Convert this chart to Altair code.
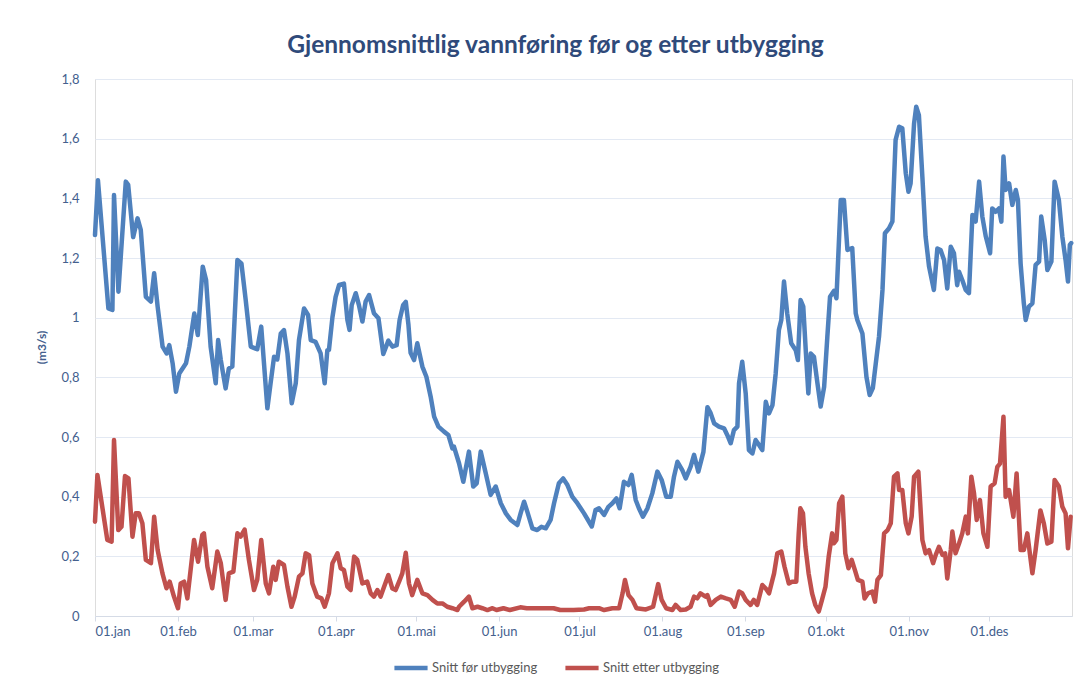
import altair as alt
import pandas as pd

# ---- data (day of year, m3/s) ----
blue_day = [0, 1.1, 5, 6.5, 7.1, 8.75, 11.5, 12.4, 14.25, 15.9, 17.1, 19, 20.9, 22.1, 23.4, 25.25, 26.75, 27.75, 29, 30.25,
            31.5, 34, 35.25, 37.1, 38.4, 40.25, 41.5, 43.2, 45.1, 46, 47, 48.8, 50, 51.3, 53.2, 54.7, 56.3, 58.2, 60.6, 62.1,
            64.4, 65.6, 66.9, 68.1, 69.4, 70.6, 71.9, 73.5, 75, 76.2, 78.1, 79.6, 80.6, 82.4, 84.3, 85.8, 86.8, 87.4, 88.7, 89.9,
            91.2, 93, 94.3, 95.1, 95.9, 97.4, 98.6, 99.9, 101.1, 102.4, 104.2, 105.9, 107.7, 109.6, 111.1, 112.7, 113.8, 115.1, 116.1, 117.1,
            117.9, 119.2, 120.4, 122.3, 123.8, 125.4, 126.7, 128.3, 130.4, 132, 133.5, 134.1, 136, 137.6, 139.7, 141.3, 142.6, 144.1, 146, 147.8,
            149.7, 151.6, 153.5, 155.3, 157.8, 159, 160.3, 161.5, 163.4, 165.2, 166.8, 168.4, 170.2, 171.5, 173.3, 174.9, 176.5, 178.3, 180.2, 182.7,
            185.6, 187, 188.3, 190.2, 191.8, 193.3, 194.8, 196, 197.6, 199.3, 200.5, 202, 203.2, 204.7, 206.4, 208.2, 210.1, 211.7, 213.4, 215.1,
            216.3, 217.6, 219.4, 220.7, 222.5, 223.8, 225.4, 227.3, 228.8, 230, 231.3, 233.1, 235, 236.2, 237.5, 238.7, 240, 240.6, 241.8, 243.1,
            244.3, 245.6, 246.8, 248.1, 249.3, 250.6, 251.8, 253.1, 254.3, 255.5, 256.4, 257.4, 258.6, 260.1, 261.8, 262.6, 263.6, 264.6, 265.6, 266.5,
            267.4, 268.6, 269.9, 271.1, 272.4, 273.6, 274.6, 276.1, 277, 278.6, 279.8, 281.1, 282.9, 284.2, 284.8, 286.7, 288.2, 289.4, 290.6, 291.7,
            292.9, 294.2, 295.1, 296.6, 297.9, 299.1, 300.4, 301.6, 302.9, 303.9, 304.7, 306, 306.8, 307.8, 309.1, 310.3, 311.6, 313.4, 314.7, 315.9,
            317.2, 318.4, 319.7, 320.9, 322.1, 322.8, 324, 325.3, 326.5, 327.8, 329, 330.3, 331.5, 332.8, 334.4, 335.2, 336.5, 337.7, 338.6, 339.4,
            340.2, 341.5, 342.7, 344, 344.8, 345.8, 347, 347.7, 348.9, 350.2, 351.4, 352.7, 353.5, 354.8, 355.8, 357.3, 358.5, 360.1, 361.4, 362.6,
            363.5, 364.2, 364.7]
blue_val = [1.277, 1.461, 1.031, 1.026, 1.411, 1.087, 1.456, 1.445, 1.270, 1.333, 1.294, 1.070, 1.054, 1.149, 1.037, 0.903, 0.880, 0.908, 0.847, 0.752,
            0.813, 0.847, 0.903, 1.014, 0.942, 1.171, 1.126, 0.903, 0.780, 0.925, 0.858, 0.763, 0.830, 0.836, 1.193, 1.182, 1.059, 0.903, 0.894, 0.970,
            0.696, 0.780, 0.869, 0.860, 0.947, 0.958, 0.880, 0.713, 0.780, 0.925, 1.031, 1.009, 0.925, 0.919, 0.880, 0.780, 0.891, 0.892, 1.001, 1.070,
            1.110, 1.114, 0.992, 0.959, 1.042, 1.082, 1.042, 0.987, 1.054, 1.076, 1.015, 0.998, 0.878, 0.923, 0.903, 0.908, 0.992, 1.042, 1.053, 0.976,
            0.882, 0.858, 0.914, 0.836, 0.802, 0.735, 0.668, 0.635, 0.618, 0.607, 0.562, 0.568, 0.512, 0.450, 0.551, 0.434, 0.445, 0.551, 0.478, 0.406,
            0.434, 0.378, 0.344, 0.322, 0.305, 0.344, 0.383, 0.350, 0.294, 0.288, 0.299, 0.294, 0.322, 0.378, 0.445, 0.461, 0.439, 0.400, 0.378, 0.344,
            0.300, 0.355, 0.361, 0.339, 0.366, 0.378, 0.394, 0.361, 0.450, 0.439, 0.473, 0.389, 0.361, 0.333, 0.361, 0.411, 0.484, 0.456, 0.400, 0.400,
            0.467, 0.517, 0.489, 0.461, 0.500, 0.540, 0.484, 0.550, 0.700, 0.680, 0.646, 0.635, 0.629, 0.607, 0.579, 0.623, 0.635, 0.780, 0.852, 0.746,
            0.556, 0.545, 0.590, 0.573, 0.556, 0.718, 0.679, 0.707, 0.813, 0.959, 0.992, 1.121, 1.015, 0.914, 0.891, 0.858, 1.059, 1.037, 0.880, 0.746,
            0.880, 0.869, 0.780, 0.702, 0.768, 0.936, 1.070, 1.090, 1.065, 1.394, 1.394, 1.227, 1.233, 1.015, 0.992, 0.947, 0.802, 0.741, 0.764, 0.847,
            0.936, 1.093, 1.283, 1.299, 1.322, 1.596, 1.640, 1.635, 1.484, 1.422, 1.450, 1.651, 1.707, 1.679, 1.472, 1.272, 1.171, 1.093, 1.232, 1.227,
            1.193, 1.098, 1.238, 1.216, 1.109, 1.154, 1.126, 1.093, 1.082, 1.344, 1.322, 1.456, 1.339, 1.272, 1.216, 1.366, 1.355, 1.366, 1.322, 1.540,
            1.428, 1.450, 1.378, 1.428, 1.394, 1.182, 1.048, 0.992, 1.037, 1.048, 1.177, 1.188, 1.339, 1.260, 1.160, 1.188, 1.456, 1.394, 1.271, 1.193,
            1.121, 1.244, 1.250]

red_day = [0, 0.9, 4.6, 6.2, 7.1, 8.7, 9.9, 11.2, 12.5, 14, 15.2, 16.4, 17.7, 19, 20.9, 22.1, 23.4, 25.2, 26.7, 27.9,
           29.5, 31, 32, 33.3, 34.5, 37, 38.5, 40.1, 40.7, 42, 43.8, 45.7, 47, 48.8, 50, 51.7, 53.2, 54.4, 55.9, 57.5,
           59.4, 60.6, 62.1, 63.8, 65, 66.6, 67.5, 68.7, 70.6, 71.9, 73.4, 74.6, 76.2, 77.5, 78.7, 80, 81.2, 83, 84.6, 85.8,
           87.4, 88.7, 90.6, 91.8, 93, 94.3, 95.5, 96.8, 98, 99.9, 101.7, 103, 104.2, 105.5, 106.7, 108, 109.6, 111.1, 112.3, 113.6,
           114.8, 116.1, 117.3, 118.5, 120.4, 122.3, 124.2, 126.1, 127.9, 129.8, 131.6, 133.5, 135.4, 136, 137.9, 139.7, 141, 142.9, 144.7, 146.6,
           148.5, 150, 152.6, 155, 158.9, 161.3, 165, 171.3, 173.8, 178.8, 182.7, 184.6, 188.3, 190.2, 193.3, 195.8, 197.1, 198, 199.3, 200.8,
           202.3, 205.8, 208.5, 210.4, 211.7, 213.4, 215.7, 216.9, 218.8, 220.7, 222.5, 223.8, 225, 226.2, 228.1, 228.8, 230, 231.9, 233.8, 235.7,
           237.5, 239, 240.6, 241.8, 243.1, 244.9, 246.1, 247.4, 249.3, 250.6, 251.8, 253.7, 254.9, 256.4, 257.6, 259.2, 260.4, 262, 262.9, 263.5,
           264.5, 265.4, 266.6, 267.9, 269.1, 270.4, 271.6, 272.9, 274.1, 275.4, 276.1, 277, 278, 279.2, 280.3, 281.5, 282.7, 283.9, 285, 286.7,
           287.5, 288.8, 290.4, 291.4, 292.3, 293.6, 294.8, 296.1, 297.3, 298.5, 299.8, 300.4, 301.6, 302.9, 303.9, 305.1, 306, 307.6, 309.1, 310.3,
           311.6, 313.1, 314.1, 315.3, 316.6, 317.6, 318.4, 319.7, 320.3, 321.5, 322.8, 324, 325.3, 326.1, 327.4, 328.4, 329.4, 330.6, 331.9, 333.4,
           334.6, 336.1, 337.1, 338.1, 339.4, 340.2, 341.5, 343.1, 344.3, 345.8, 347, 348.3, 350.2, 351.4, 353.2, 354.5, 355.8, 357.3, 358.5, 360.1,
           361.4, 362.6, 363.5, 364.5]
red_val = [0.316, 0.473, 0.255, 0.249, 0.590, 0.288, 0.299, 0.469, 0.461, 0.266, 0.344, 0.344, 0.311, 0.188, 0.177, 0.333, 0.221, 0.143, 0.093, 0.115,
           0.065, 0.026, 0.109, 0.115, 0.059, 0.255, 0.182, 0.272, 0.277, 0.165, 0.093, 0.216, 0.177, 0.054, 0.143, 0.149, 0.277, 0.266, 0.290, 0.188,
           0.087, 0.121, 0.255, 0.109, 0.076, 0.165, 0.121, 0.182, 0.171, 0.098, 0.031, 0.065, 0.132, 0.143, 0.210, 0.204, 0.109, 0.065, 0.059, 0.031,
           0.076, 0.177, 0.210, 0.160, 0.154, 0.098, 0.087, 0.199, 0.188, 0.109, 0.115, 0.076, 0.065, 0.087, 0.065, 0.098, 0.137, 0.092, 0.087, 0.115,
           0.143, 0.212, 0.109, 0.070, 0.121, 0.076, 0.070, 0.054, 0.042, 0.042, 0.031, 0.026, 0.020, 0.031, 0.048, 0.065, 0.026, 0.031, 0.026, 0.020,
           0.026, 0.020, 0.026, 0.020, 0.029, 0.026, 0.026, 0.026, 0.020, 0.020, 0.022, 0.026, 0.026, 0.020, 0.026, 0.026, 0.076, 0.121, 0.070, 0.054,
           0.026, 0.022, 0.031, 0.107, 0.054, 0.026, 0.020, 0.037, 0.020, 0.022, 0.031, 0.065, 0.059, 0.076, 0.065, 0.070, 0.037, 0.054, 0.065, 0.059,
           0.054, 0.031, 0.082, 0.076, 0.054, 0.037, 0.054, 0.037, 0.104, 0.092, 0.076, 0.143, 0.210, 0.216, 0.165, 0.109, 0.115, 0.115, 0.277, 0.361,
           0.344, 0.232, 0.143, 0.076, 0.037, 0.015, 0.054, 0.098, 0.199, 0.277, 0.244, 0.255, 0.378, 0.400, 0.210, 0.160, 0.188, 0.154, 0.121, 0.115,
           0.059, 0.076, 0.082, 0.048, 0.121, 0.137, 0.277, 0.288, 0.311, 0.467, 0.478, 0.422, 0.422, 0.311, 0.277, 0.333, 0.467, 0.484, 0.255, 0.210,
           0.221, 0.177, 0.205, 0.232, 0.205, 0.210, 0.126, 0.221, 0.283, 0.210, 0.243, 0.277, 0.333, 0.277, 0.467, 0.411, 0.322, 0.389, 0.277, 0.232,
           0.434, 0.445, 0.500, 0.511, 0.668, 0.400, 0.422, 0.333, 0.478, 0.221, 0.221, 0.277, 0.143, 0.221, 0.354, 0.310, 0.243, 0.249, 0.456, 0.434,
           0.366, 0.344, 0.227, 0.333]

series_names = ["Snitt før utbygging", "Snitt etter utbygging"]
series_colors = ["#4F81BD", "#C0504D"]
month_starts = [0, 31, 59, 90, 120, 151, 181, 212, 243, 273, 304, 334]
month_labels = ["01.jan", "01.feb", "01.mar", "01.apr", "01.mai", "01.jun",
                "01.jul", "01.aug", "01.sep", "01.okt", "01.nov", "01.des"]
y_ticks = [0, 0.2, 0.4, 0.6, 0.8, 1.0, 1.2, 1.4, 1.6, 1.8]

df = pd.concat([
    pd.DataFrame({"dag": blue_day, "verdi": blue_val, "serie": series_names[0], "ordre": range(len(blue_day))}),
    pd.DataFrame({"dag": red_day, "verdi": red_val, "serie": series_names[1], "ordre": range(len(red_day))}),
])

FONT = "Lato"
LABEL_COLOR = "#44608e"

label_expr = "[" + ",".join("'%s'" % s for s in month_labels) + "][indexof([" + \
    ",".join(str(m) for m in month_starts) + "], datum.value)]"

chart = alt.Chart(df).mark_line(strokeWidth=4.5, strokeJoin="round", strokeCap="round").encode(
    x=alt.X("dag:Q", scale=alt.Scale(domain=[0, 365], nice=False, zero=False),
            axis=alt.Axis(values=month_starts, labelExpr=label_expr, title=None, grid=False,
                          domainColor="#d5dbe6", tickColor="#d5dbe6", tickSize=5,
                          labelPadding=4, labelFontSize=13, labelColor=LABEL_COLOR, labelFont=FONT)),
    y=alt.Y("verdi:Q", scale=alt.Scale(domain=[0, 1.8], nice=False),
            axis=alt.Axis(values=y_ticks, labelExpr="replace(format(datum.value, '.1~f'), '.', ',')",
                          title="(m3/s)", titleFont=FONT, titleFontSize=12, titleFontWeight="bold",
                          titleColor=LABEL_COLOR, titleX=-47, titleY=268, titleAngle=-90,
                          grid=True, gridColor="#e3e9f3", gridWidth=1, domain=False, ticks=False,
                          labelPadding=16, labelFontSize=13, labelColor=LABEL_COLOR, labelFont=FONT)),
    color=alt.Color("serie:N", scale=alt.Scale(domain=series_names, range=series_colors),
                    legend=alt.Legend(title=None, orient="none", direction="horizontal",
                                      legendX=297, legendY=570, symbolType="stroke",
                                      symbolSize=1100, symbolStrokeWidth=4.5, labelOffset=2,
                                      columnPadding=18, labelFont=FONT, labelFontSize=13,
                                      labelColor="#595959")),
    order="ordre:Q",
).properties(
    width=977, height=537,
    title=alt.TitleParams("Gjennomsnittlig vannføring før og etter utbygging", font=FONT,
                          fontSize=24.5, fontWeight="bold", color="#2f4a7a", anchor="middle",
                          dx=-28, dy=25, offset=16, baseline="bottom"),
    autosize=alt.AutoSizeParams(type="none"),
    padding={"left": 87, "top": 71, "right": 12, "bottom": 71},
).configure_view(strokeWidth=0).configure(background="white")

chart.save("out.html", embed_options={"renderer": "svg", "actions": False})
